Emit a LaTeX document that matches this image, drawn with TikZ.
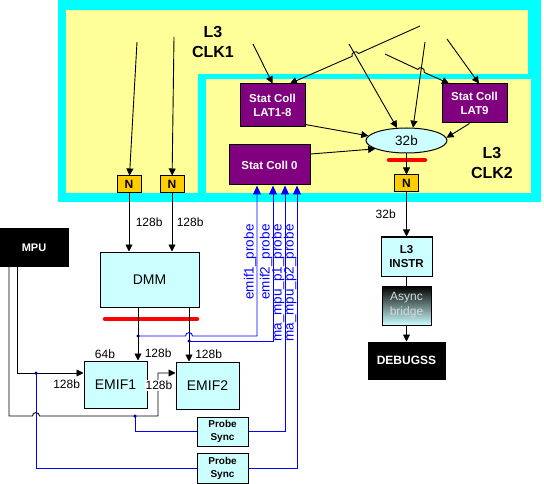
\documentclass[tikz,border=0pt]{standalone}
\usepackage{fontspec}
\setmainfont{Liberation Sans}
\usetikzlibrary{arrows.meta,shapes.geometric,calc}
\definecolor{clkcyan}{HTML}{00FFFF}
\definecolor{clkyellow}{HTML}{FFFF99}
\definecolor{statpurple}{HTML}{800080}
\definecolor{nodeorange}{HTML}{FFCC00}
\definecolor{lightcyan}{HTML}{CCFFFF}
\definecolor{probeblue}{HTML}{0000FF}
\definecolor{junctionblue}{HTML}{000099}

\begin{document}
\begin{tikzpicture}[x=1pt,y=-1pt,
  font=\fontsize{12}{14}\selectfont,
  box/.style={shape=rectangle, draw, line width=1pt, inner sep=0pt, align=center},
  cyanbox/.style={box, fill=lightcyan},
  blackbox/.style={box, fill=black, text=white, font=\fontsize{12}{14}\selectfont\bfseries},
  statbox/.style={box, fill=statpurple, text=white, font=\fontsize{11.5}{14}\selectfont\bfseries},
  nbox/.style={box, fill=nodeorange, minimum width=24pt, minimum height=17pt, font=\fontsize{12}{12}\selectfont\bfseries},
  clklabel/.style={align=center, font=\fontsize{16}{20}\selectfont\bfseries},
  wire/.style={line width=0.9pt},
  arr/.style={wire, -{Triangle[length=7pt,width=7pt]}},
  probe/.style={line width=0.9pt, probeblue},
  probearr/.style={probe, -{Triangle[length=9pt,width=8pt]}},
  probelabel/.style={rotate=90, anchor=south, inner sep=0.5pt, text=probeblue, font=\fontsize{13.5}{14}\selectfont},
  junction/.style={circle, fill=junctionblue, inner sep=0pt, minimum size=3.5pt},
  redbar/.style={red, line width=4.5pt, line cap=round}
]
\useasboundingbox (0,0) rectangle (544,484);

% clock domains
\fill[clkcyan] (58,0) rectangle (541,202);
\fill[clkyellow] (66,10) rectangle (528,193);
\fill[clkcyan] (198,74) rectangle (541,202);
\fill[clkyellow] (206,79) rectangle (531,193);
\node[clklabel] (clk1) at (213,42) {L3\\CLK1};
\node[clklabel] (clk2) at (492,163) {L3\\CLK2};

% blocks
\node[nbox] (n1) at (129,184.5) {N};
\node[nbox] (n2) at (172,184.5) {N};
\node[nbox] (n3) at (406.5,183.5) {N};
\node[statbox, minimum width=65pt, minimum height=43pt] (lat18) at (272.5,105.5) {Stat Coll\\LAT1-8};
\node[statbox, minimum width=65pt, minimum height=39pt] (lat9) at (474.5,103.5) {Stat Coll\\LAT9};
\node[statbox, minimum width=81pt, minimum height=40pt] (sc0) at (269.5,165) {Stat Coll 0};
\node[shape=ellipse, draw, line width=1pt, fill=lightcyan, inner sep=0pt, minimum width=81pt, minimum height=25pt, font=\fontsize{13.5}{14}\selectfont] (e32) at (406.5,140.5) {32b};
\node[cyanbox, minimum width=51pt, minimum height=39pt, font=\fontsize{11.5}{14}\selectfont\bfseries] (instr) at (406.5,256.5) {L3\\INSTR};
\node[box, minimum width=49pt, minimum height=39pt, top color=black, bottom color=lightcyan, text=black!15, font=\fontsize{12}{15}\selectfont] (async) at (406.5,305.5) {Async\\bridge};
\node[blackbox, minimum width=77pt, minimum height=37pt] (debug) at (406.5,360.5) {DEBUGSS};
\node[cyanbox, minimum width=99pt, minimum height=55pt, font=\fontsize{14}{16}\selectfont] (dmm) at (149.5,279.5) {DMM};
\node[blackbox, minimum width=68pt, minimum height=37pt, font=\fontsize{11}{13}\selectfont\bfseries] (mpu) at (34,247.5) {MPU};
\node[cyanbox, minimum width=63pt, minimum height=47pt, font=\fontsize{14}{16}\selectfont] (emif1) at (115.5,384.5) {EMIF1};
\node[cyanbox, minimum width=63pt, minimum height=47pt, font=\fontsize{14}{16}\selectfont] (emif2) at (207.5,385.5) {EMIF2};
\node[cyanbox, minimum width=51pt, minimum height=29pt, font=\fontsize{10}{13}\selectfont\bfseries] (ps1) at (222.5,431.5) {Probe\\Sync};
\node[cyanbox, minimum width=51pt, minimum height=30pt, font=\fontsize{10}{13}\selectfont\bfseries] (ps2) at (222.5,468) {Probe\\Sync};

% traffic into the stat collectors
\coordinate (src1) at (137,42);
\coordinate (src2) at (174,37);
\coordinate (src3) at (253,44);
\coordinate (src4) at (420,26);
\coordinate (src5) at (349,44);
\coordinate (src6) at (425,42);
\coordinate (src7) at (385,54);
\coordinate (src8) at (447,39);
\draw[arr] (src1) -- (n1);
\draw[arr] (src2) -- (n2);
\draw[arr] (src3) -- (lat18.north);
\draw[arr] (src4) -- (358.5,53.5) .. controls (356.9,49.8) and (350.5,52.6) .. (352.1,56.3) -- ([xshift=17.5pt]lat18.north);
\draw[arr] (src5) -- (e32.127);
\draw[arr] (src6) -- (e32.63);
\draw[arr] (src7) -- (417.8,69.4) .. controls (419.5,65.8) and (425.9,68.8) .. (424.2,72.4) -- ([xshift=-25.5pt]lat9.north);
\draw[arr] (src8) -- ([xshift=4.5pt]lat9.north);
\draw[arr] (lat18.-30) -- (e32.173);
\draw[arr] (sc0.15) -- (e32.195);
\draw[arr] ([xshift=-5pt]lat9.south) -- (e32.4);

% instrumentation path
\draw[redbar] (389,160) -- (425,160);
\draw[arr] (e32) -- (n3);
\draw[arr] (n3) -- node[left=7pt]{32b} (instr);
\draw[wire] (instr) -- (async);
\draw[arr] (async) -- (debug);

% DMM and EMIFs
\draw[arr] (n1) -- node[right=3pt]{128b} (n1 |- dmm.north);
\draw[arr] (n2) -- node[right=1pt]{128b} (n2 |- dmm.north);
\draw[redbar] (105,319) -- (197,319);
\coordinate (dout1) at ([xshift=-11.5pt]dmm.south);
\coordinate (dout2) at ([xshift=39.5pt]dmm.south);
\draw[arr] (dout1) -- node[pos=0.87,right=3pt]{128b} (dout1 |- emif1.north);
\draw[arr] (dout2) -- node[pos=0.87,right=2.5pt]{128b} (dout2 |- emif2.north);
\node (lbl64) at (105,354) {64b};

% MPU ports
\coordinate (m1) at ([xshift=-17pt]mpu.south);
\coordinate (m2) at ([xshift=-25pt]mpu.south);
\draw[arr] (m1) |- ([yshift=11.5pt]emif1.west);
\node[left=0pt] (lblm1) at (emif1.west) {128b};
\draw[arr] (m2) |- (32.5,416) .. controls (32.5,411.5) and (39.5,411.5) .. (39.5,416) -- (158,416) |- ([yshift=12.5pt]emif2.west);
\node[left=2pt, fill=white, inner sep=1pt] (lblm2) at (emif2.west) {128b};

% probes
\coordinate (j1) at (138,336);
\coordinate (j2) at (189,341);
\coordinate (j3) at (135,416);
\coordinate (j4) at (36,373);
\coordinate (s1) at ([xshift=-12.5pt]sc0.south);
\coordinate (s2) at ([xshift=3.5pt]sc0.south);
\coordinate (s3) at ([xshift=15.5pt]sc0.south);
\coordinate (s4) at ([xshift=27.5pt]sc0.south);
\draw[probearr] (j1) -- (185.5,336) .. controls (185.5,331.5) and (192.5,331.5) .. (192.5,336) -| (s1);
\draw[probearr] (j2) -| (s2);
\draw[probearr] (ps1) -| (s3);
\draw[probearr] (ps2) -| (s4);
\draw[probe] (j3) |- (ps1);
\draw[probe] (j4) |- (ps2);
\node[junction] at (j1) {};
\node[junction] at (j2) {};
\node[junction] at (j3) {};
\node[junction] at (j4) {};
\node[probelabel] (lble1) at (257,262) {emif1\_probe};
\node[probelabel] (lble2) at (273,262) {emif2\_probe};
\node[probelabel] (lblp1) at (285,283) {ma\_mpu\_p1\_probe};
\node[probelabel] (lblp2) at (297,283) {ma\_mpu\_p2\_probe};
\end{tikzpicture}
\end{document}
